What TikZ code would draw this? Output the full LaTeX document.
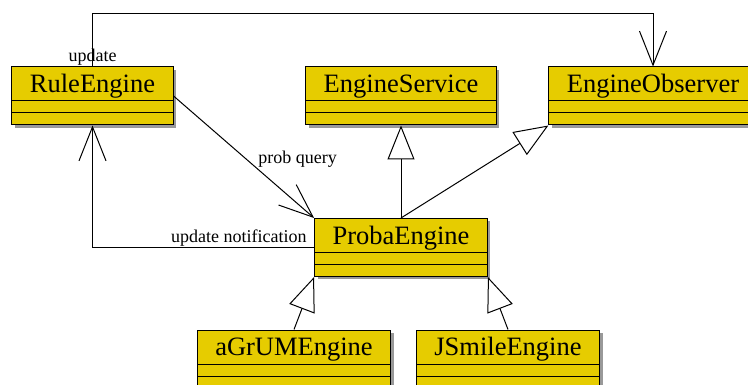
\documentclass[tikz,border=0pt]{standalone}
\usepackage{fontspec}
\setmainfont{Liberation Serif}
\usepackage{tikz}
\usetikzlibrary{arrows.meta,shadows}

\definecolor{classyellow}{RGB}{230,204,0}

\begin{document}
\begin{tikzpicture}
    [x=1pt,y=-1pt,line width=1pt,
     cls/.style={draw,fill=classyellow,inner xsep=18pt,inner ysep=0pt,
       text height=25.7pt,text depth=32.3pt,
       font=\fontsize{26.5}{30}\selectfont,
       drop shadow={shadow xshift=3pt,shadow yshift=-3pt,fill=black!40,opacity=1},
       path picture={
         \draw ([yshift=-34pt]path picture bounding box.north west) -- ([yshift=-34pt]path picture bounding box.north east);
         \draw ([yshift=-46pt]path picture bounding box.north west) -- ([yshift=-46pt]path picture bounding box.north east);}},
     lbl/.style={font=\fontsize{18}{20}\selectfont,inner sep=0pt},
     assoc/.style={-{Straight Barb[length=34pt,width=27pt]}},
     gen/.style={-{Triangle[open,length=34pt,width=27pt,fill=white]}}]
    \clip (0,0) rectangle (748,385);
    \useasboundingbox (0,0) rectangle (748,385);

    \node[cls] (nrule) at (92.5,96) {RuleEngine};
    \node[cls] (nserv) at (401,96) {EngineService};
    \node[cls] (nobs) at (653,96) {EngineObserver};
    \node[cls] (nproba) at (401,247.5) {ProbaEngine};
    \node[cls] (nagrum) at (294,359) {aGrUMEngine};
    \node[cls] (njsmile) at (508,359) {JSmileEngine};

    % messages
    \draw[assoc] (nrule.north) node[lbl,anchor=base,yshift=5pt] {update}
        -- ++(0,-53) -| (nobs.north);
    \draw[assoc] (nproba.west) node[lbl,anchor=base east,xshift=-7pt,yshift=5pt] {update notification}
        -| (nrule.south);
    \draw[assoc] (nrule.east) -- (nproba.north west)
        node[lbl,pos=0.55,anchor=base west,xshift=7pt] {prob query};

    % inheritance
    \path[gen] (nproba.north) edge (nserv.south);
    \path[gen] (nproba.north) edge (nobs.south west);
    \path[gen] (nagrum.north) edge (nproba.south west);
    \path[gen] (njsmile.north) edge (nproba.south east);

\end{tikzpicture}
\end{document}
